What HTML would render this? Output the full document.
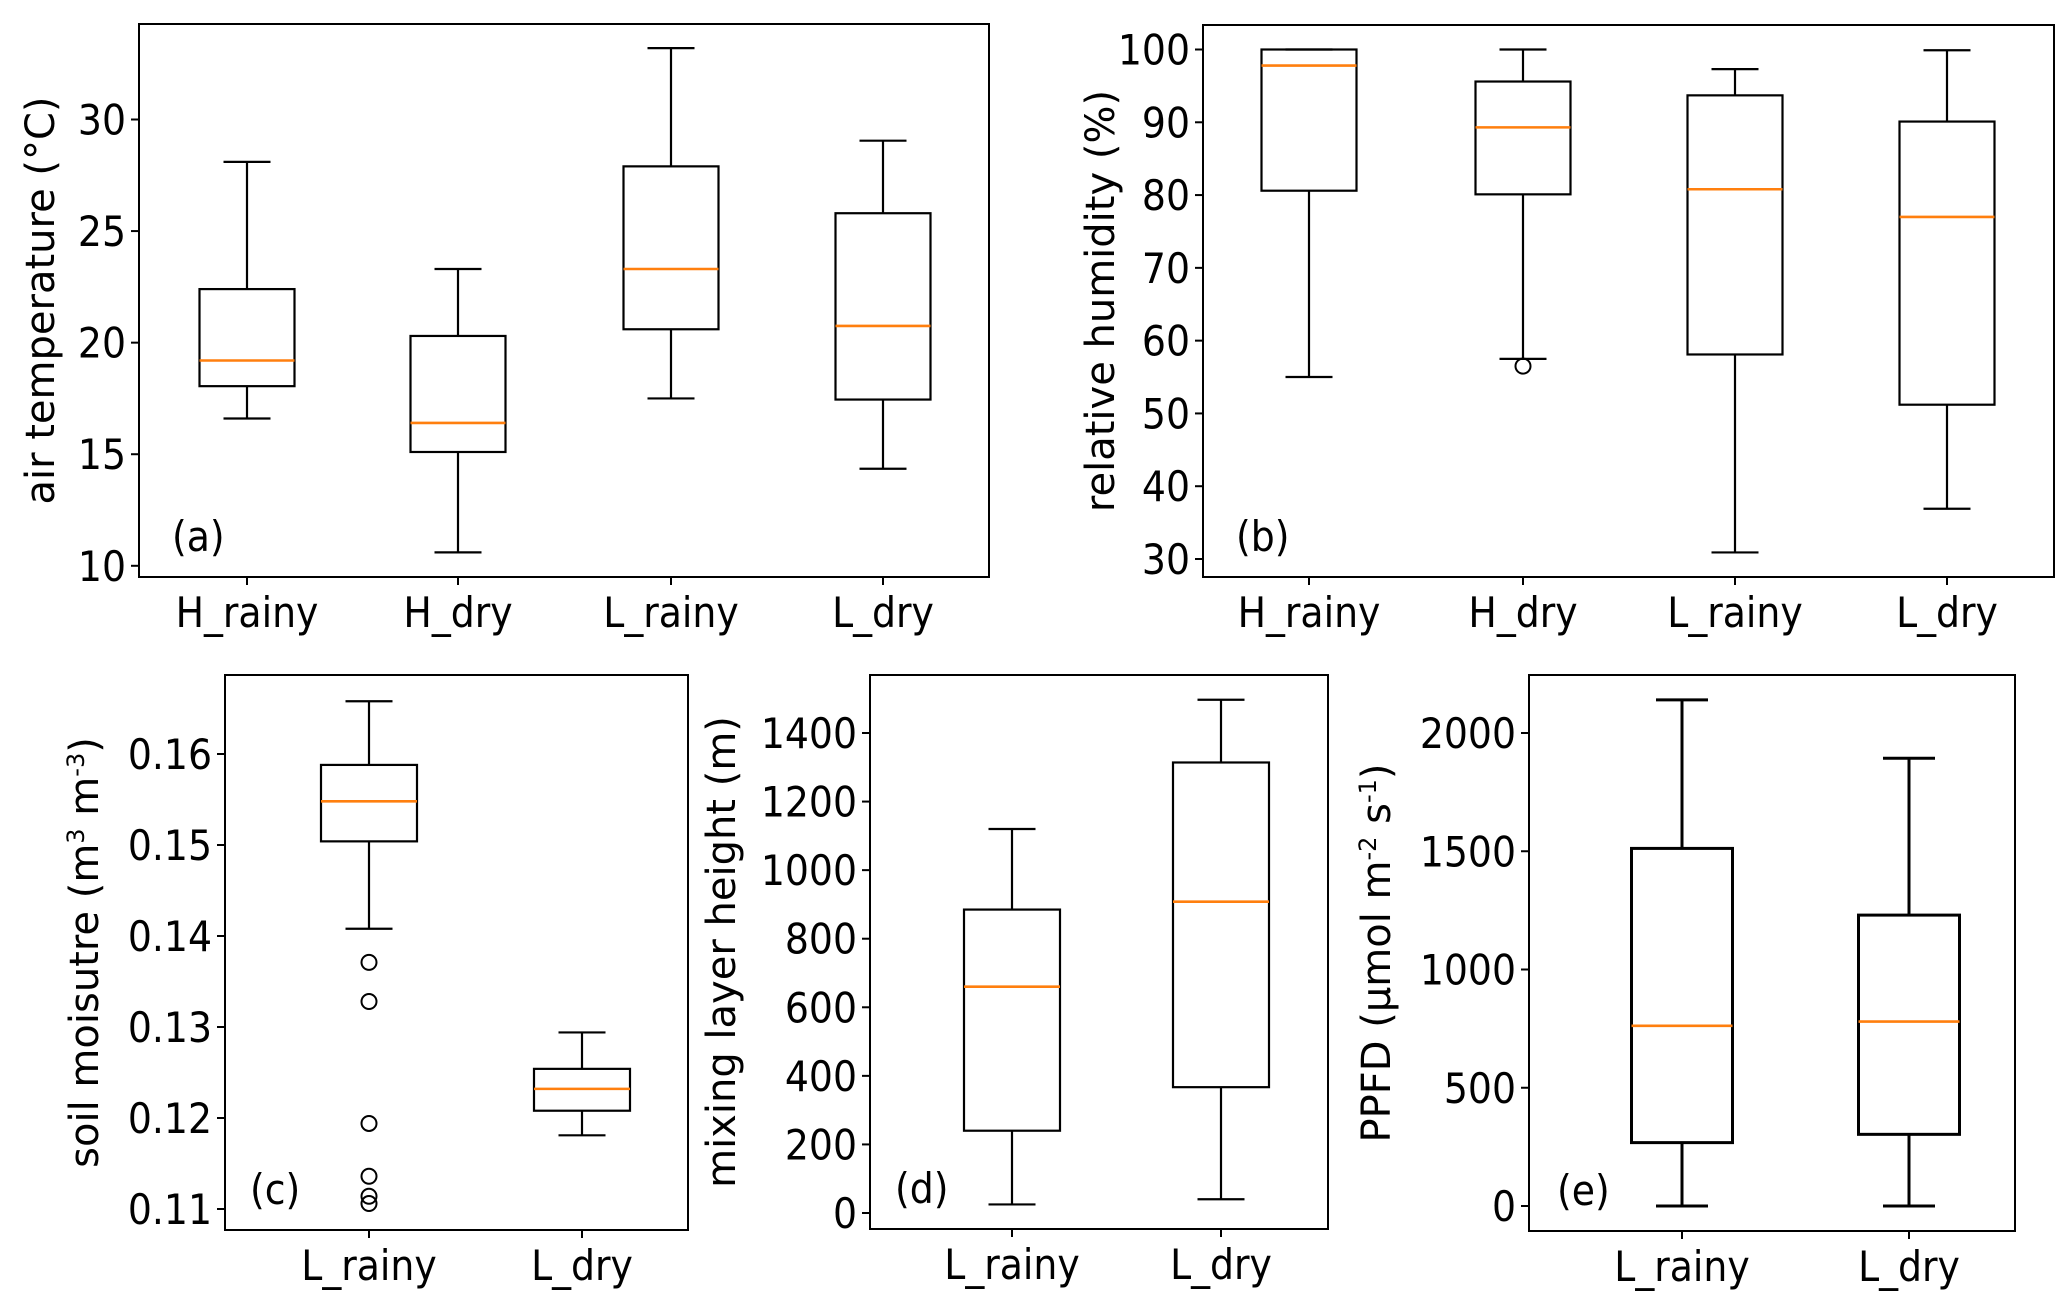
<!DOCTYPE html>
<html><head><meta charset="utf-8">
<style>
html,body{margin:0;padding:0;background:#fff;overflow:hidden}
svg text{font-family:"DejaVu Sans Condensed","DejaVu Sans","Liberation Sans",sans-serif;fill:#000}
.lab{font-family:"DejaVu Sans","Liberation Sans",sans-serif}
</style></head>
<body>
<svg id="fig" width="2067" height="1298" viewBox="0 0 2067 1298" xmlns="http://www.w3.org/2000/svg"></svg>
<script>
// Panel (a) air temperature: [low whisker, q1, median, q3, high whisker]
const catsA = ["H_rainy","H_dry","L_rainy","L_dry"];
const statsA = [[16.6,18.05,19.2,22.4,28.1],[10.6,15.1,16.4,20.3,23.3],[17.5,20.6,23.3,27.9,33.2],[14.35,17.45,20.75,25.8,29.05]];
const fliersA = [[],[],[],[]];
const ticksA = [10,15,20,25,30];
// Panel (b) relative humidity
const catsB = ["H_rainy","H_dry","L_rainy","L_dry"];
const statsB = [[55,80.6,97.8,100,100],[57.5,80.1,89.3,95.6,100],[30.9,58.1,80.8,93.7,97.3],[36.9,51.2,77.0,90.1,99.9]];
const fliersB = [[],[56.5],[],[]];
const ticksB = [30,40,50,60,70,80,90,100];
// Panel (c) soil moisture
const catsC = ["L_rainy","L_dry"];
const statsC = [[0.1408,0.1504,0.1548,0.1588,0.1658],[0.1181,0.1208,0.1232,0.1254,0.1294]];
const fliersC = [[0.1371,0.1328,0.1194,0.1136,0.1114,0.1106],[]];
const ticksC = ["0.11","0.12","0.13","0.14","0.15","0.16"];
// Panel (d) mixing layer height
const catsD = ["L_rainy","L_dry"];
const statsD = [[25,240,660,885,1120],[40,367,908,1314,1497]];
const fliersD = [[],[]];
const ticksD = [0,200,400,600,800,1000,1200,1400];
// Panel (e) PPFD
const catsE = ["L_rainy","L_dry"];
const statsE = [[0,268,762,1512,2140],[0,303,780,1230,1893]];
const fliersE = [[],[]];
const ticksE = [0,500,1000,1500,2000];

const NS="http://www.w3.org/2000/svg";
const svg=document.getElementById('fig');
function mk(tag,attrs,parent){const e=document.createElementNS(NS,tag);for(const k in attrs)e.setAttribute(k,attrs[k]);(parent||svg).appendChild(e);return e;}

function panel(cfg){
  const g=mk('g',{});
  
  
  const k=(cfg.py1-cfg.py0)/(cfg.v1-cfg.v0);
  const y=v=>cfg.py0+(v-cfg.v0)*k;
  const lw=cfg.lw;
  cfg.cats.forEach((c,i)=>{
    const s=cfg.stats[i], cx=cfg.xs[i], hw=cfg.bw/2, cw=cfg.cw/2;
    const bg=mk('g',{},g);
    
    
    mk('line',{x1:cx,x2:cx,y1:y(s[0]),y2:y(s[1]),stroke:'#000','stroke-width':lw},bg);
    mk('line',{x1:cx,x2:cx,y1:y(s[3]),y2:y(s[4]),stroke:'#000','stroke-width':lw},bg);
    mk('line',{x1:cx-cw,x2:cx+cw,y1:y(s[0]),y2:y(s[0]),stroke:'#000','stroke-width':lw},bg);
    mk('line',{x1:cx-cw,x2:cx+cw,y1:y(s[4]),y2:y(s[4]),stroke:'#000','stroke-width':lw},bg);
    mk('rect',{x:cx-hw,y:y(s[3]),width:cfg.bw,height:y(s[1])-y(s[3]),fill:'none',stroke:'#000','stroke-width':lw},bg);
    mk('line',{x1:cx-hw,x2:cx+hw,y1:y(s[2]),y2:y(s[2]),stroke:'#ff7f0e','stroke-width':2.6},bg);
    cfg.fliers[i].forEach(f=>{
      const o=mk('circle',{cx:cx,cy:y(f),r:7.5,fill:'none',stroke:'#000','stroke-width':2},bg);
      
      
    });
    mk('line',{x1:cx,x2:cx,y1:cfg.b,y2:cfg.b+8,stroke:'#000','stroke-width':2},g);
    const t=mk('text',{x:cx,y:cfg.b+50,'font-size':42,'text-anchor':'middle'},g);
    t.textContent=c;
    
    
  });
  cfg.ticks.forEach(tv=>{
    const v=parseFloat(tv), yy=y(v);
    mk('line',{x1:cfg.l-8,x2:cfg.l,y1:yy,y2:yy,stroke:'#000','stroke-width':2},g);
    const t=mk('text',{x:cfg.l-13,y:yy+15,'font-size':42,'text-anchor':'end'},g);
    t.textContent=tv;
    
    
  });
  const fr=mk('rect',{x:cfg.l,y:cfg.t,width:cfg.r-cfg.l,height:cfg.b-cfg.t,fill:'none',stroke:'#000','stroke-width':2},g);
  
  
  const yl=mk('text',{class:'lab',x:0,y:0,'font-size':cfg.yfs||40,'text-anchor':'middle',transform:`translate(${cfg.ylx},${(cfg.t+cfg.b)/2}) rotate(-90)`},g);
  yl.innerHTML=cfg.ylabel;
  
  
  const pl=mk('text',{x:cfg.plx,y:cfg.b-26,'font-size':42},g);
  pl.textContent='('+cfg.id+')';
  
  
}

panel({id:'a',cats:catsA,stats:statsA,fliers:fliersA,ticks:ticksA,l:139,r:989,t:24,b:577,v0:30,py0:119.5,v1:10,py1:565.8,xs:[247,458,671,883],bw:95,cw:47,lw:2.2,ylx:54,plx:172,ylabel:'air temperature (°C)'});
panel({id:'b',cats:catsB,stats:statsB,fliers:fliersB,ticks:ticksB,l:1203,r:2054,t:25,b:577,v0:100,py0:49.5,v1:30,py1:559,xs:[1309,1523,1735,1947],bw:95,cw:47,lw:2.2,ylx:1114,plx:1236,ylabel:'relative humidity (%)'});
panel({id:'c',cats:catsC,stats:statsC,fliers:fliersC,ticks:ticksC,l:225,r:688,t:675,b:1230,v0:0.16,py0:754,v1:0.11,py1:1209,xs:[369,582],bw:96,cw:47,lw:2.2,ylx:98,plx:250,ylabel:'soil moisutre (m<tspan dy="-14" font-size="24">3</tspan><tspan dy="14"> m</tspan><tspan dy="-14" font-size="24">-3</tspan><tspan dy="14">)</tspan>'});
panel({id:'d',cats:catsD,stats:statsD,fliers:fliersD,ticks:ticksD,l:870,r:1328,t:675,b:1229,v0:1400,py0:733,v1:0,py1:1213,xs:[1012,1221],bw:96,cw:47,lw:2.2,ylx:735,plx:895,ylabel:'mixing layer height (m)'});
panel({id:'e',cats:catsE,stats:statsE,fliers:fliersE,ticks:ticksE,l:1529,r:2015,t:675,b:1231,v0:2000,py0:733,v1:0,py1:1206,xs:[1682,1909],bw:101,cw:52,lw:3,ylx:1390,plx:1557,ylabel:'PPFD (μmol m<tspan dy="-14" font-size="24">-2</tspan><tspan dy="14"> s</tspan><tspan dy="-14" font-size="24">-1</tspan><tspan dy="14">)</tspan>'});
</script>
</body></html>
